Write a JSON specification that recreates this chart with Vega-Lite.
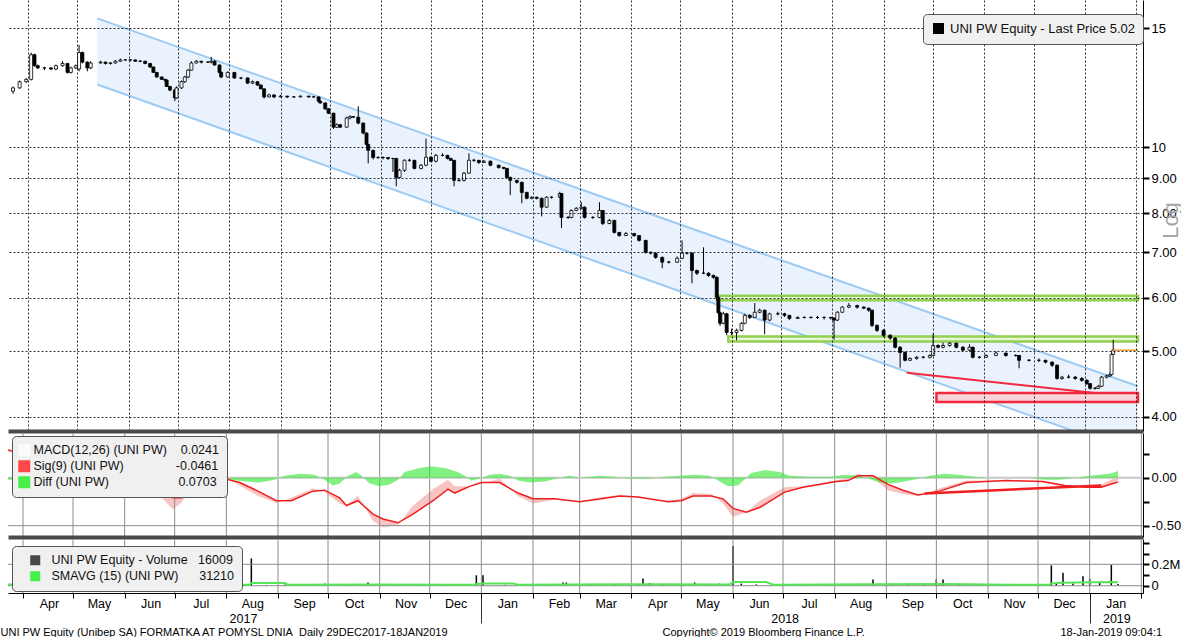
{
"$schema": "https://vega.github.io/schema/vega-lite/v6.json",
"padding": 0,
"background": "white",
"bounds": "flush",
"spacing": 2,
"config": {"view": {"stroke": null}, "font": "Liberation Sans",
  "axis": {"labelFont": "Liberation Sans", "titleFont": "Liberation Sans", "titleFontWeight": "normal", "labelColor": "#000", "titleColor": "#000"},
  "legend": {"labelFont": "Liberation Sans"}},
"resolve": {"scale": {"x": "independent", "y": "independent", "color": "independent"}},
"datasets": {
"months": [{"d":"2017-04-01"},{"d":"2017-05-01"},{"d":"2017-06-01"},{"d":"2017-07-01"},{"d":"2017-08-01"},{"d":"2017-09-01"},{"d":"2017-10-01"},{"d":"2017-11-01"},{"d":"2017-12-01"},{"d":"2018-01-01"},{"d":"2018-02-01"},{"d":"2018-03-01"},{"d":"2018-04-01"},{"d":"2018-05-01"},{"d":"2018-06-01"},{"d":"2018-07-01"},{"d":"2018-08-01"},{"d":"2018-09-01"},{"d":"2018-10-01"},{"d":"2018-11-01"},{"d":"2018-12-01"},{"d":"2019-01-01"},{"d":"2019-02-01"}],
"chan": [{"d":"2017-05-13","up":15.5,"lo":12.38},{"d":"2019-02-02","up":4.44,"lo":3.53}],
"bands": [{"d0":"2018-05-23","d1":"2019-02-02","t":6.04,"b":5.95,"k":"g"},{"d0":"2018-05-30","d1":"2019-02-02","t":5.26,"b":5.17,"k":"g"},{"d0":"2018-10-03","d1":"2019-02-02","t":4.34,"b":4.21,"k":"r"}],
"trend": [{"d":"2018-09-15","v":4.65},{"d":"2019-01-07","v":4.34}],
"last": [{"d":"2019-01-18","d2":"2019-02-02","v":5.02}],
"mtrend": [{"d":"2018-09-24","v":-0.165},{"d":"2019-01-08","v":-0.08}],
"px": [
{"d":"2017-03-23","o":12.1,"h":12.3,"l":12.0,"c":12.24},
{"d":"2017-03-27","o":12.24,"h":12.55,"l":12.2,"c":12.5},
{"d":"2017-03-31","o":12.5,"h":12.65,"l":12.45,"c":12.6},
{"d":"2017-04-03","o":12.6,"h":13.8,"l":12.55,"c":13.7},
{"d":"2017-04-05","o":13.7,"h":13.75,"l":13.15,"c":13.2},
{"d":"2017-04-07","o":13.2,"h":13.25,"l":13.05,"c":13.1},
{"d":"2017-04-11","o":13.1,"h":13.15,"l":13.0,"c":13.1},
{"d":"2017-04-15","o":13.1,"h":13.12,"l":13.0,"c":13.05},
{"d":"2017-04-18","o":13.05,"h":13.25,"l":13.0,"c":13.2},
{"d":"2017-04-22","o":13.2,"h":13.4,"l":13.15,"c":13.3},
{"d":"2017-04-25","o":13.3,"h":13.3,"l":12.85,"c":12.9},
{"d":"2017-04-27","o":12.9,"h":13.15,"l":12.85,"c":13.1},
{"d":"2017-04-30","o":13.1,"h":13.25,"l":13.05,"c":13.2},
{"d":"2017-05-02","o":13.05,"h":14.16,"l":12.95,"c":13.8},
{"d":"2017-05-04","o":13.8,"h":13.85,"l":13.3,"c":13.36},
{"d":"2017-05-07","o":13.36,"h":13.4,"l":12.95,"c":13.1},
{"d":"2017-05-09","o":13.1,"h":13.4,"l":13.05,"c":13.32},
{"d":"2017-05-15","o":13.32,"h":13.42,"l":13.3,"c":13.36},
{"d":"2017-05-18","o":13.36,"h":13.38,"l":13.25,"c":13.3},
{"d":"2017-05-21","o":13.3,"h":13.36,"l":13.25,"c":13.32},
{"d":"2017-05-24","o":13.32,"h":13.45,"l":13.3,"c":13.4},
{"d":"2017-05-27","o":13.4,"h":13.52,"l":13.38,"c":13.46},
{"d":"2017-05-30","o":13.46,"h":13.5,"l":13.42,"c":13.46},
{"d":"2017-06-02","o":13.46,"h":13.5,"l":13.4,"c":13.46},
{"d":"2017-06-05","o":13.46,"h":13.48,"l":13.38,"c":13.4},
{"d":"2017-06-08","o":13.4,"h":13.45,"l":13.36,"c":13.4},
{"d":"2017-06-11","o":13.4,"h":13.42,"l":13.26,"c":13.3},
{"d":"2017-06-14","o":13.3,"h":13.32,"l":13.1,"c":13.14},
{"d":"2017-06-16","o":13.14,"h":13.16,"l":12.88,"c":12.9},
{"d":"2017-06-18","o":12.9,"h":12.92,"l":12.68,"c":12.7},
{"d":"2017-06-21","o":12.7,"h":12.72,"l":12.58,"c":12.6},
{"d":"2017-06-23","o":12.6,"h":12.62,"l":12.5,"c":12.57},
{"d":"2017-06-24","o":12.57,"h":12.6,"l":12.28,"c":12.3},
{"d":"2017-06-26","o":12.3,"h":12.32,"l":12.1,"c":12.15},
{"d":"2017-06-29","o":12.15,"h":12.2,"l":11.7,"c":11.83},
{"d":"2017-06-30","o":11.83,"h":12.3,"l":11.8,"c":12.24},
{"d":"2017-07-03","o":12.24,"h":12.55,"l":12.2,"c":12.5},
{"d":"2017-07-05","o":12.5,"h":12.75,"l":12.45,"c":12.7},
{"d":"2017-07-07","o":12.7,"h":13.05,"l":12.65,"c":13.0},
{"d":"2017-07-09","o":13.0,"h":13.4,"l":12.98,"c":13.32},
{"d":"2017-07-12","o":13.32,"h":13.45,"l":13.3,"c":13.4},
{"d":"2017-07-15","o":13.4,"h":13.42,"l":13.3,"c":13.36},
{"d":"2017-07-19","o":13.36,"h":13.4,"l":13.32,"c":13.36},
{"d":"2017-07-21","o":13.36,"h":13.6,"l":13.3,"c":13.4},
{"d":"2017-07-23","o":13.4,"h":13.45,"l":13.2,"c":13.23},
{"d":"2017-07-26","o":13.23,"h":13.25,"l":12.85,"c":12.9},
{"d":"2017-07-27","o":12.9,"h":12.95,"l":12.65,"c":12.7},
{"d":"2017-07-31","o":12.7,"h":12.95,"l":12.68,"c":12.9},
{"d":"2017-08-04","o":12.9,"h":12.92,"l":12.62,"c":12.66},
{"d":"2017-08-08","o":12.66,"h":12.7,"l":12.6,"c":12.66},
{"d":"2017-08-12","o":12.66,"h":12.68,"l":12.4,"c":12.44},
{"d":"2017-08-15","o":12.44,"h":12.55,"l":12.4,"c":12.5},
{"d":"2017-08-18","o":12.5,"h":12.52,"l":12.32,"c":12.36},
{"d":"2017-08-20","o":12.36,"h":12.38,"l":12.18,"c":12.2},
{"d":"2017-08-22","o":12.2,"h":12.22,"l":11.8,"c":11.87},
{"d":"2017-08-25","o":11.87,"h":12.0,"l":11.85,"c":11.95},
{"d":"2017-08-28","o":11.95,"h":11.97,"l":11.82,"c":11.87},
{"d":"2017-09-01","o":11.87,"h":11.95,"l":11.85,"c":11.9},
{"d":"2017-09-05","o":11.9,"h":11.92,"l":11.82,"c":11.87},
{"d":"2017-09-09","o":11.87,"h":11.9,"l":11.84,"c":11.87},
{"d":"2017-09-13","o":11.87,"h":11.93,"l":11.85,"c":11.9},
{"d":"2017-09-18","o":11.9,"h":11.92,"l":11.84,"c":11.87},
{"d":"2017-09-21","o":11.87,"h":11.9,"l":11.84,"c":11.87},
{"d":"2017-09-24","o":11.87,"h":11.88,"l":11.66,"c":11.7},
{"d":"2017-09-25","o":11.7,"h":11.72,"l":11.6,"c":11.63},
{"d":"2017-09-28","o":11.63,"h":11.65,"l":11.36,"c":11.4},
{"d":"2017-09-30","o":11.4,"h":11.42,"l":11.2,"c":11.23},
{"d":"2017-10-03","o":11.23,"h":11.25,"l":10.65,"c":10.71},
{"d":"2017-10-05","o":10.71,"h":10.85,"l":10.68,"c":10.8},
{"d":"2017-10-07","o":10.8,"h":10.82,"l":10.68,"c":10.71},
{"d":"2017-10-11","o":10.71,"h":11.1,"l":10.7,"c":11.05},
{"d":"2017-10-13","o":11.05,"h":11.15,"l":11.0,"c":11.1},
{"d":"2017-10-15","o":11.1,"h":11.12,"l":11.05,"c":11.08},
{"d":"2017-10-18","o":11.08,"h":11.5,"l":10.82,"c":10.86},
{"d":"2017-10-21","o":10.86,"h":10.88,"l":10.45,"c":10.5},
{"d":"2017-10-23","o":10.5,"h":10.52,"l":10.05,"c":10.1},
{"d":"2017-10-24","o":10.1,"h":10.12,"l":9.47,"c":9.9},
{"d":"2017-10-27","o":9.9,"h":9.92,"l":9.6,"c":9.66},
{"d":"2017-10-30","o":9.66,"h":9.7,"l":9.62,"c":9.66},
{"d":"2017-11-02","o":9.66,"h":9.7,"l":9.6,"c":9.66},
{"d":"2017-11-05","o":9.66,"h":9.68,"l":9.58,"c":9.63},
{"d":"2017-11-08","o":9.63,"h":9.65,"l":9.2,"c":9.63},
{"d":"2017-11-10","o":9.63,"h":9.65,"l":8.76,"c":9.03},
{"d":"2017-11-12","o":9.03,"h":9.3,"l":9.0,"c":9.25},
{"d":"2017-11-15","o":9.25,"h":9.6,"l":9.2,"c":9.57},
{"d":"2017-11-18","o":9.57,"h":9.62,"l":9.52,"c":9.57},
{"d":"2017-11-21","o":9.57,"h":9.58,"l":9.28,"c":9.31},
{"d":"2017-11-25","o":9.31,"h":9.45,"l":9.28,"c":9.41},
{"d":"2017-11-28","o":9.41,"h":10.3,"l":9.38,"c":9.67},
{"d":"2017-12-01","o":9.67,"h":9.7,"l":9.5,"c":9.54},
{"d":"2017-12-04","o":9.54,"h":9.78,"l":9.5,"c":9.73},
{"d":"2017-12-08","o":9.73,"h":9.8,"l":9.7,"c":9.73},
{"d":"2017-12-11","o":9.73,"h":9.75,"l":9.6,"c":9.63},
{"d":"2017-12-13","o":9.63,"h":9.65,"l":9.55,"c":9.57},
{"d":"2017-12-15","o":9.57,"h":9.58,"l":8.76,"c":8.94},
{"d":"2017-12-18","o":8.94,"h":9.0,"l":8.9,"c":8.94},
{"d":"2017-12-21","o":8.94,"h":9.2,"l":8.9,"c":9.16},
{"d":"2017-12-24","o":9.16,"h":9.8,"l":9.14,"c":9.57},
{"d":"2017-12-27","o":9.57,"h":9.62,"l":9.52,"c":9.57},
{"d":"2017-12-30","o":9.57,"h":9.58,"l":9.45,"c":9.5},
{"d":"2018-01-02","o":9.5,"h":9.58,"l":9.48,"c":9.54},
{"d":"2018-01-06","o":9.54,"h":9.56,"l":9.38,"c":9.41},
{"d":"2018-01-11","o":9.41,"h":9.43,"l":9.3,"c":9.34},
{"d":"2018-01-14","o":9.34,"h":9.36,"l":9.28,"c":9.31},
{"d":"2018-01-16","o":9.31,"h":9.32,"l":9.0,"c":9.03},
{"d":"2018-01-18","o":9.03,"h":9.05,"l":8.5,"c":8.94},
{"d":"2018-01-22","o":8.94,"h":8.96,"l":8.84,"c":8.88},
{"d":"2018-01-25","o":8.88,"h":8.9,"l":8.27,"c":8.58},
{"d":"2018-01-28","o":8.58,"h":8.6,"l":8.38,"c":8.41},
{"d":"2018-01-31","o":8.41,"h":8.47,"l":8.38,"c":8.44},
{"d":"2018-02-03","o":8.44,"h":8.46,"l":8.38,"c":8.41},
{"d":"2018-02-06","o":8.41,"h":8.43,"l":7.91,"c":8.16},
{"d":"2018-02-09","o":8.16,"h":8.47,"l":8.14,"c":8.44},
{"d":"2018-02-12","o":8.44,"h":8.47,"l":8.4,"c":8.44},
{"d":"2018-02-17","o":8.44,"h":8.6,"l":8.42,"c":8.55},
{"d":"2018-02-18","o":8.55,"h":8.56,"l":7.6,"c":7.88},
{"d":"2018-02-22","o":7.88,"h":7.92,"l":7.84,"c":7.88},
{"d":"2018-02-24","o":7.88,"h":8.1,"l":7.86,"c":8.07},
{"d":"2018-02-27","o":8.07,"h":8.16,"l":8.05,"c":8.13},
{"d":"2018-03-02","o":8.13,"h":8.3,"l":8.1,"c":8.16},
{"d":"2018-03-04","o":8.16,"h":8.18,"l":7.85,"c":7.88},
{"d":"2018-03-09","o":7.88,"h":7.92,"l":7.84,"c":7.88},
{"d":"2018-03-13","o":7.88,"h":8.3,"l":7.86,"c":8.07},
{"d":"2018-03-15","o":8.07,"h":8.08,"l":7.68,"c":7.72},
{"d":"2018-03-19","o":7.72,"h":7.84,"l":7.7,"c":7.8},
{"d":"2018-03-22","o":7.8,"h":7.82,"l":7.46,"c":7.49},
{"d":"2018-03-25","o":7.49,"h":7.5,"l":7.38,"c":7.41},
{"d":"2018-03-29","o":7.41,"h":7.5,"l":7.4,"c":7.46},
{"d":"2018-04-03","o":7.46,"h":7.48,"l":7.38,"c":7.41},
{"d":"2018-04-06","o":7.41,"h":7.42,"l":7.26,"c":7.29},
{"d":"2018-04-10","o":7.29,"h":7.3,"l":6.97,"c":7.0},
{"d":"2018-04-13","o":7.0,"h":7.02,"l":6.95,"c":6.98},
{"d":"2018-04-16","o":6.98,"h":7.0,"l":6.85,"c":6.88},
{"d":"2018-04-20","o":6.88,"h":6.9,"l":6.63,"c":6.77},
{"d":"2018-04-24","o":6.77,"h":6.8,"l":6.74,"c":6.77},
{"d":"2018-04-29","o":6.77,"h":6.9,"l":6.75,"c":6.86},
{"d":"2018-05-02","o":6.86,"h":7.29,"l":6.84,"c":6.98},
{"d":"2018-05-05","o":6.98,"h":7.0,"l":6.95,"c":6.98},
{"d":"2018-05-08","o":6.98,"h":7.0,"l":6.3,"c":6.58},
{"d":"2018-05-11","o":6.58,"h":6.6,"l":6.48,"c":6.52},
{"d":"2018-05-15","o":6.52,"h":7.12,"l":6.5,"c":6.52},
{"d":"2018-05-18","o":6.52,"h":6.54,"l":6.44,"c":6.47},
{"d":"2018-05-21","o":6.47,"h":6.49,"l":6.4,"c":6.43},
{"d":"2018-05-23","o":6.43,"h":6.45,"l":5.95,"c":6.01},
{"d":"2018-05-24","o":6.01,"h":6.03,"l":5.65,"c":5.7},
{"d":"2018-05-25","o":5.7,"h":5.72,"l":5.45,"c":5.5},
{"d":"2018-05-27","o":5.5,"h":5.72,"l":5.48,"c":5.68},
{"d":"2018-05-29","o":5.68,"h":5.7,"l":5.28,"c":5.33},
{"d":"2018-06-01","o":5.33,"h":5.4,"l":5.28,"c":5.33},
{"d":"2018-06-04","o":5.33,"h":5.4,"l":5.19,"c":5.37},
{"d":"2018-06-07","o":5.37,"h":5.52,"l":5.35,"c":5.5},
{"d":"2018-06-09","o":5.5,"h":5.68,"l":5.48,"c":5.65},
{"d":"2018-06-12","o":5.65,"h":5.67,"l":5.58,"c":5.61},
{"d":"2018-06-15","o":5.61,"h":5.89,"l":5.6,"c":5.71},
{"d":"2018-06-18","o":5.71,"h":5.78,"l":5.69,"c":5.75},
{"d":"2018-06-21","o":5.75,"h":5.76,"l":5.3,"c":5.56},
{"d":"2018-06-24","o":5.56,"h":5.7,"l":5.54,"c":5.68},
{"d":"2018-06-29","o":5.68,"h":5.72,"l":5.65,"c":5.68},
{"d":"2018-07-03","o":5.68,"h":5.7,"l":5.62,"c":5.65},
{"d":"2018-07-06","o":5.65,"h":5.66,"l":5.56,"c":5.59},
{"d":"2018-07-11","o":5.59,"h":5.63,"l":5.58,"c":5.61},
{"d":"2018-07-15","o":5.61,"h":5.63,"l":5.59,"c":5.61},
{"d":"2018-07-19","o":5.61,"h":5.63,"l":5.59,"c":5.61},
{"d":"2018-07-23","o":5.61,"h":5.64,"l":5.58,"c":5.61},
{"d":"2018-07-27","o":5.61,"h":5.63,"l":5.57,"c":5.61},
{"d":"2018-07-31","o":5.61,"h":5.62,"l":5.57,"c":5.6},
{"d":"2018-08-02","o":5.6,"h":5.61,"l":5.2,"c":5.56},
{"d":"2018-08-04","o":5.56,"h":5.73,"l":5.54,"c":5.71},
{"d":"2018-08-07","o":5.71,"h":5.83,"l":5.7,"c":5.81},
{"d":"2018-08-11","o":5.81,"h":5.89,"l":5.79,"c":5.84},
{"d":"2018-08-16","o":5.84,"h":5.86,"l":5.78,"c":5.81},
{"d":"2018-08-20","o":5.81,"h":5.83,"l":5.77,"c":5.79},
{"d":"2018-08-23","o":5.79,"h":5.8,"l":5.72,"c":5.75},
{"d":"2018-08-25","o":5.75,"h":5.76,"l":5.43,"c":5.46},
{"d":"2018-08-28","o":5.46,"h":5.48,"l":5.34,"c":5.37},
{"d":"2018-09-01","o":5.37,"h":5.39,"l":5.25,"c":5.28},
{"d":"2018-09-05","o":5.28,"h":5.3,"l":5.2,"c":5.23},
{"d":"2018-09-08","o":5.23,"h":5.25,"l":5.05,"c":5.07},
{"d":"2018-09-11","o":5.07,"h":5.09,"l":4.73,"c":4.98},
{"d":"2018-09-14","o":4.98,"h":5.0,"l":4.83,"c":4.85},
{"d":"2018-09-17","o":4.85,"h":4.9,"l":4.84,"c":4.88},
{"d":"2018-09-21","o":4.88,"h":4.92,"l":4.86,"c":4.9},
{"d":"2018-09-25","o":4.9,"h":4.92,"l":4.88,"c":4.9},
{"d":"2018-09-29","o":4.9,"h":4.95,"l":4.88,"c":4.93},
{"d":"2018-10-01","o":4.93,"h":5.31,"l":4.92,"c":5.1},
{"d":"2018-10-04","o":5.1,"h":5.12,"l":5.05,"c":5.07},
{"d":"2018-10-07","o":5.07,"h":5.15,"l":5.05,"c":5.1},
{"d":"2018-10-11","o":5.1,"h":5.16,"l":5.08,"c":5.14},
{"d":"2018-10-15","o":5.14,"h":5.15,"l":5.05,"c":5.07},
{"d":"2018-10-19","o":5.07,"h":5.09,"l":5.0,"c":5.02},
{"d":"2018-10-23","o":5.02,"h":5.12,"l":5.0,"c":5.07},
{"d":"2018-10-25","o":5.07,"h":5.08,"l":4.88,"c":4.9},
{"d":"2018-10-29","o":4.9,"h":4.92,"l":4.88,"c":4.9},
{"d":"2018-11-02","o":4.9,"h":4.95,"l":4.89,"c":4.93},
{"d":"2018-11-08","o":4.93,"h":5.0,"l":4.92,"c":4.97},
{"d":"2018-11-14","o":4.97,"h":4.98,"l":4.91,"c":4.93},
{"d":"2018-11-20","o":4.93,"h":4.95,"l":4.91,"c":4.93},
{"d":"2018-11-22","o":4.93,"h":4.94,"l":4.72,"c":4.85},
{"d":"2018-11-28","o":4.85,"h":4.87,"l":4.83,"c":4.85},
{"d":"2018-12-04","o":4.85,"h":4.88,"l":4.82,"c":4.85},
{"d":"2018-12-08","o":4.85,"h":4.86,"l":4.8,"c":4.82},
{"d":"2018-12-12","o":4.82,"h":4.83,"l":4.74,"c":4.77},
{"d":"2018-12-15","o":4.77,"h":4.78,"l":4.54,"c":4.56},
{"d":"2018-12-18","o":4.56,"h":4.6,"l":4.54,"c":4.58},
{"d":"2018-12-22","o":4.58,"h":4.62,"l":4.56,"c":4.58},
{"d":"2018-12-26","o":4.58,"h":4.6,"l":4.54,"c":4.56},
{"d":"2018-12-30","o":4.56,"h":4.58,"l":4.51,"c":4.53},
{"d":"2019-01-02","o":4.53,"h":4.55,"l":4.46,"c":4.48},
{"d":"2019-01-04","o":4.48,"h":4.49,"l":4.39,"c":4.41},
{"d":"2019-01-07","o":4.41,"h":4.43,"l":4.39,"c":4.41},
{"d":"2019-01-09","o":4.41,"h":4.46,"l":4.4,"c":4.44},
{"d":"2019-01-11","o":4.44,"h":4.6,"l":4.43,"c":4.58},
{"d":"2019-01-14","o":4.58,"h":4.62,"l":4.56,"c":4.6},
{"d":"2019-01-16","o":4.6,"h":4.65,"l":4.58,"c":4.62},
{"d":"2019-01-17","o":4.62,"h":4.98,"l":4.6,"c":4.95},
{"d":"2019-01-18","o":4.95,"h":5.2,"l":4.94,"c":5.02}
],
"sig": [
{"d":"2017-03-23","s":0.29,"m":0.27},{"d":"2017-04-09","s":0.22,"m":0.2},{"d":"2017-05-01","s":0.16,"m":0.14},{"d":"2017-05-23","s":0.1,"m":0.08},
{"d":"2017-06-10","s":0.05,"m":-0.01},{"d":"2017-06-21","s":-0.07,"m":-0.17},{"d":"2017-06-30","s":-0.21,"m":-0.33},{"d":"2017-07-05","s":-0.21,"m":-0.26},
{"d":"2017-07-13","s":-0.1,"m":-0.07},{"d":"2017-07-29","s":0.0,"m":0.03},{"d":"2017-08-09","s":-0.05,"m":-0.08},{"d":"2017-08-20","s":-0.14,"m":-0.19},
{"d":"2017-08-31","s":-0.24,"m":-0.26},{"d":"2017-09-09","s":-0.24,"m":-0.21},{"d":"2017-09-22","s":-0.14,"m":-0.11},{"d":"2017-09-29","s":-0.13,"m":-0.15},
{"d":"2017-10-08","s":-0.21,"m":-0.27},{"d":"2017-10-12","s":-0.29,"m":-0.29},{"d":"2017-10-19","s":-0.24,"m":-0.19},{"d":"2017-10-28","s":-0.38,"m":-0.45},
{"d":"2017-11-03","s":-0.43,"m":-0.52},{"d":"2017-11-12","s":-0.47,"m":-0.49},{"d":"2017-11-21","s":-0.38,"m":-0.29},{"d":"2017-12-03","s":-0.24,"m":-0.12},
{"d":"2017-12-12","s":-0.12,"m":-0.02},{"d":"2017-12-16","s":-0.16,"m":-0.09},{"d":"2017-12-25","s":-0.09,"m":-0.09},{"d":"2018-01-01","s":-0.05,"m":-0.06},
{"d":"2018-01-12","s":-0.05,"m":-0.01},{"d":"2018-01-23","s":-0.16,"m":-0.19},{"d":"2018-02-01","s":-0.22,"m":-0.27},{"d":"2018-02-14","s":-0.22,"m":-0.23},
{"d":"2018-03-01","s":-0.25,"m":-0.25},{"d":"2018-03-14","s":-0.22,"m":-0.2},{"d":"2018-03-25","s":-0.19,"m":-0.18},{"d":"2018-04-05","s":-0.2,"m":-0.21},
{"d":"2018-04-23","s":-0.25,"m":-0.24},{"d":"2018-05-01","s":-0.24,"m":-0.22},{"d":"2018-05-08","s":-0.19,"m":-0.16},{"d":"2018-05-19","s":-0.19,"m":-0.17},
{"d":"2018-05-26","s":-0.22,"m":-0.27},{"d":"2018-06-01","s":-0.32,"m":-0.41},{"d":"2018-06-09","s":-0.36,"m":-0.36},{"d":"2018-06-17","s":-0.31,"m":-0.24},
{"d":"2018-07-02","s":-0.15,"m":-0.1},{"d":"2018-07-13","s":-0.1,"m":-0.09},{"d":"2018-08-02","s":-0.04,"m":-0.03},{"d":"2018-08-09","s":-0.03,"m":0.0},
{"d":"2018-08-15","s":0.02,"m":0.04},{"d":"2018-08-24","s":0.02,"m":0.0},{"d":"2018-09-02","s":-0.07,"m":-0.13},{"d":"2018-09-11","s":-0.13,"m":-0.17},
{"d":"2018-09-20","s":-0.18,"m":-0.19},{"d":"2018-10-03","s":-0.14,"m":-0.11},{"d":"2018-10-19","s":-0.05,"m":-0.03},{"d":"2018-11-12","s":-0.03,"m":-0.03},
{"d":"2018-12-04","s":-0.04,"m":-0.05},{"d":"2018-12-17","s":-0.08,"m":-0.1},{"d":"2018-12-30","s":-0.1,"m":-0.08},{"d":"2019-01-08","s":-0.1,"m":-0.07},
{"d":"2019-01-15","s":-0.06,"m":-0.01},{"d":"2019-01-18","s":-0.046,"m":0.024}
],
"diff": [
{"d":"2017-03-23","v":-0.02},{"d":"2017-04-11","v":-0.02},{"d":"2017-05-05","v":-0.02},{"d":"2017-05-17","v":-0.01},{"d":"2017-05-29","v":-0.03},
{"d":"2017-06-10","v":-0.06},{"d":"2017-06-22","v":-0.1},{"d":"2017-06-29","v":-0.12},{"d":"2017-07-04","v":-0.05},{"d":"2017-07-10","v":0.02},
{"d":"2017-07-19","v":0.04},{"d":"2017-07-28","v":0.03},{"d":"2017-08-04","v":-0.02},{"d":"2017-08-12","v":-0.04},{"d":"2017-08-21","v":-0.05},
{"d":"2017-08-30","v":-0.02},{"d":"2017-09-05","v":0.02},{"d":"2017-09-14","v":0.04},{"d":"2017-09-23","v":0.03},{"d":"2017-09-29","v":-0.02},
{"d":"2017-10-04","v":-0.08},{"d":"2017-10-08","v":-0.06},{"d":"2017-10-13","v":0.02},{"d":"2017-10-18","v":0.06},{"d":"2017-10-21","v":0.02},
{"d":"2017-10-26","v":-0.06},{"d":"2017-11-01","v":-0.09},{"d":"2017-11-07","v":-0.07},{"d":"2017-11-12","v":-0.02},{"d":"2017-11-16","v":0.06},
{"d":"2017-11-25","v":0.1},{"d":"2017-12-02","v":0.12},{"d":"2017-12-10","v":0.1},{"d":"2017-12-18","v":0.06},{"d":"2017-12-22","v":0.02},
{"d":"2017-12-26","v":-0.03},{"d":"2017-12-31","v":-0.01},{"d":"2018-01-06","v":0.03},{"d":"2018-01-12","v":0.04},{"d":"2018-01-18","v":0.02},
{"d":"2018-01-23","v":-0.03},{"d":"2018-01-30","v":-0.05},{"d":"2018-02-08","v":-0.04},{"d":"2018-02-17","v":0.0},{"d":"2018-02-23","v":0.02},
{"d":"2018-03-01","v":0.0},{"d":"2018-03-13","v":0.02},{"d":"2018-03-22","v":0.01},{"d":"2018-03-31","v":-0.01},{"d":"2018-04-12","v":-0.01},
{"d":"2018-04-21","v":0.01},{"d":"2018-04-30","v":0.02},{"d":"2018-05-09","v":0.03},{"d":"2018-05-18","v":0.02},{"d":"2018-05-24","v":-0.04},
{"d":"2018-05-29","v":-0.09},{"d":"2018-06-04","v":-0.08},{"d":"2018-06-09","v":0.0},{"d":"2018-06-12","v":0.05},{"d":"2018-06-20","v":0.08},
{"d":"2018-06-29","v":0.06},{"d":"2018-07-05","v":0.02},{"d":"2018-07-17","v":0.01},{"d":"2018-07-29","v":0.01},{"d":"2018-08-07","v":0.03},
{"d":"2018-08-16","v":0.02},{"d":"2018-08-23","v":-0.02},{"d":"2018-08-28","v":-0.05},{"d":"2018-09-04","v":-0.06},{"d":"2018-09-12","v":-0.04},
{"d":"2018-09-20","v":-0.01},{"d":"2018-09-27","v":0.02},{"d":"2018-10-06","v":0.04},{"d":"2018-10-15","v":0.03},{"d":"2018-10-24","v":0.01},
{"d":"2018-11-02","v":0.0},{"d":"2018-11-14","v":0.0},{"d":"2018-11-26","v":0.0},{"d":"2018-12-05","v":-0.02},{"d":"2018-12-14","v":-0.02},
{"d":"2018-12-23","v":0.0},{"d":"2019-01-01","v":0.02},{"d":"2019-01-07","v":0.03},{"d":"2019-01-12","v":0.04},{"d":"2019-01-15","v":0.05},{"d":"2019-01-18","v":0.0703}
],
"vol": [
{"d":"2017-03-24","v":8000},{"d":"2017-04-03","v":60000},{"d":"2017-04-14","v":40000},{"d":"2017-04-28","v":6000},{"d":"2017-05-12","v":9000},
{"d":"2017-05-26","v":5000},{"d":"2017-06-05","v":20000},{"d":"2017-06-20","v":6000},{"d":"2017-07-05","v":8000},{"d":"2017-07-20","v":5000},
{"d":"2017-08-16","v":255000},{"d":"2017-08-25","v":7000},{"d":"2017-09-05","v":10000},{"d":"2017-09-20","v":6000},{"d":"2017-09-29","v":20000},
{"d":"2017-10-12","v":8000},{"d":"2017-10-25","v":30000},{"d":"2017-11-10","v":9000},{"d":"2017-11-24","v":6000},{"d":"2017-12-08","v":10000},
{"d":"2017-12-20","v":7000},{"d":"2017-12-29","v":97000},{"d":"2018-01-02","v":97000},{"d":"2018-01-15","v":8000},{"d":"2018-01-29","v":6000},
{"d":"2018-02-09","v":9000},{"d":"2018-02-19","v":30000},{"d":"2018-02-21","v":30000},{"d":"2018-03-08","v":7000},{"d":"2018-03-22","v":9000},
{"d":"2018-04-05","v":10000},{"d":"2018-04-08","v":67000},{"d":"2018-04-12","v":25000},{"d":"2018-04-20","v":8000},{"d":"2018-05-02","v":12000},
{"d":"2018-05-09","v":30000},{"d":"2018-05-16","v":10000},{"d":"2018-05-24","v":20000},{"d":"2018-06-01","v":370000},{"d":"2018-06-06","v":20000},
{"d":"2018-06-15","v":12000},{"d":"2018-06-28","v":8000},{"d":"2018-07-13","v":5000},{"d":"2018-07-26","v":6000},{"d":"2018-08-09","v":15000},
{"d":"2018-08-24","v":58000},{"d":"2018-09-05","v":12000},{"d":"2018-09-14","v":20000},{"d":"2018-09-24","v":15000},{"d":"2018-10-01","v":58000},
{"d":"2018-10-05","v":58000},{"d":"2018-10-15","v":10000},{"d":"2018-10-29","v":8000},{"d":"2018-11-12","v":12000},{"d":"2018-11-26","v":6000},
{"d":"2018-12-09","v":190000},{"d":"2018-12-12","v":25000},{"d":"2018-12-16","v":120000},{"d":"2018-12-22","v":20000},{"d":"2018-12-28","v":88000},
{"d":"2019-01-01","v":67000},{"d":"2019-01-07","v":25000},{"d":"2019-01-14","v":194000},{"d":"2019-01-18","v":16009}
],
"sma": [
{"d":"2017-03-23","s":12000},{"d":"2017-04-20","s":15000},{"d":"2017-05-25","s":10000},{"d":"2017-07-15","s":8000},{"d":"2017-08-15","s":8000},
{"d":"2017-08-16","s":25000},{"d":"2017-09-05","s":25000},{"d":"2017-09-07","s":9000},{"d":"2017-10-25","s":11000},{"d":"2017-12-28","s":9000},
{"d":"2017-12-29","s":15000},{"d":"2018-01-02","s":21000},{"d":"2018-01-20","s":21000},{"d":"2018-01-23","s":9000},{"d":"2018-02-19","s":12000},
{"d":"2018-04-08","s":13000},{"d":"2018-05-30","s":11000},{"d":"2018-06-01","s":34000},{"d":"2018-06-21","s":34000},{"d":"2018-06-25","s":10000},
{"d":"2018-08-24","s":13000},{"d":"2018-10-05","s":15000},{"d":"2018-11-15","s":10000},{"d":"2018-12-08","s":10000},{"d":"2018-12-09","s":22000},
{"d":"2018-12-16","s":28000},{"d":"2019-01-14","s":35000},{"d":"2019-01-18","s":31210}
]
},
"vconcat": [
{
 "width": 1135, "height": 431,
 "resolve": {"axis": {"x": "independent", "y": "independent"}},
 "layer": [
  {"data": {"name": "chan"}, "mark": {"type": "area", "clip": true, "color": "#d3e6fb", "opacity": 0.5},
   "encoding": {
    "x": {"field": "d", "type": "temporal", "scale": {"type": "utc", "domain": [{"year": 2017, "month": 3, "date": 23, "utc": true}, {"year": 2019, "month": 2, "date": 2, "utc": true}]},
          "axis": {"orient": "bottom", "zindex": 1, "labels": false, "ticks": false, "domain": true, "domainWidth": 4, "domainColor": "#4a4a4a", "grid": true, "gridDash": [2, 2], "gridColor": "#000000", "gridWidth": 1, "gridOpacity": 0.8, "tickCount": {"interval": "month", "step": 1},
                   "title": "UNI PW Equity (Unibep SA) FORMATKA AT POMYSL DNIA\u00a0\u00a0Daily 29DEC2017-18JAN2019", "titleX": -8, "titleY": 204, "titleAlign": "left", "titleBaseline": "alphabetic", "titleFontSize": 11, "titleAnchor": "start"}},
    "y": {"field": "up", "type": "quantitative", "scale": {"type": "log", "domain": [3.814, 16.5], "nice": false},
          "axis": {"orient": "right", "zindex": 1, "values": [4, 5, 6, 7, 8, 9, 10, 15], "labelExpr": "datum.value >= 10 ? format(datum.value, 'd') : format(datum.value, '.2f')", "grid": true, "gridDash": [2, 2], "gridColor": "#000000", "gridWidth": 1, "gridOpacity": 0.8, "domainColor": "#000", "tickColor": "#000", "tickSize": 6, "tickWidth": 2, "labelPadding": 2, "labelFontSize": 13, "labelOverlap": false,
                   "title": "Log", "titleAngle": 270, "titleX": 27, "titleY": 220, "titleFontSize": 22, "titleColor": "#a6a6a6", "titleAlign": "center", "titleBaseline": "middle"}},
    "y2": {"field": "lo"}}},
  {"data": {"name": "chan"}, "mark": {"type": "line", "clip": true, "color": "#9ccbf4", "strokeWidth": 2},
   "encoding": {"x": {"field": "d", "type": "temporal", "axis": null}, "y": {"field": "up", "type": "quantitative", "axis": null, "scale": {"type": "log", "domain": [3.814, 16.5], "nice": false}}}},
  {"data": {"name": "chan"}, "mark": {"type": "line", "clip": true, "color": "#9ccbf4", "strokeWidth": 2},
   "encoding": {"x": {"field": "d", "type": "temporal", "axis": null}, "y": {"field": "lo", "type": "quantitative", "axis": null, "scale": {"type": "log", "domain": [3.814, 16.5], "nice": false}}}},
  {"data": {"name": "bands"}, "mark": {"type": "rect", "clip": true, "strokeWidth": 2.5},
   "encoding": {"x": {"field": "d0", "type": "temporal", "axis": null}, "x2": {"field": "d1"}, "y": {"field": "t", "type": "quantitative", "axis": null, "scale": {"type": "log", "domain": [3.814, 16.5], "nice": false}}, "y2": {"field": "b"},
    "fill": {"condition": {"test": "datum.k == 'r'", "value": "#f9d3da"}, "value": "#e8f6d8"},
    "stroke": {"condition": {"test": "datum.k == 'r'", "value": "#f5283f"}, "value": "#92d050"}}},
  {"data": {"name": "trend"}, "mark": {"type": "line", "color": "#f5283f", "strokeWidth": 2},
   "encoding": {"x": {"field": "d", "type": "temporal", "axis": null}, "y": {"field": "v", "type": "quantitative", "axis": null, "scale": {"type": "log", "domain": [3.814, 16.5], "nice": false}}}},
  {"data": {"name": "px"}, "mark": {"type": "rule", "color": "#000", "strokeWidth": 1},
   "encoding": {"x": {"field": "d", "type": "temporal", "axis": null}, "y": {"field": "l", "type": "quantitative", "axis": null, "scale": {"type": "log", "domain": [3.814, 16.5], "nice": false}}, "y2": {"field": "h"}}},
  {"data": {"name": "px"}, "mark": {"type": "bar", "size": 3, "stroke": "#000", "strokeWidth": 0.8},
   "encoding": {"x": {"field": "d", "type": "temporal", "axis": null}, "y": {"field": "o", "type": "quantitative", "axis": null, "scale": {"type": "log", "domain": [3.814, 16.5], "nice": false}}, "y2": {"field": "c"},
    "fill": {"condition": {"test": "datum.c >= datum.o", "value": "#ffffff"}, "value": "#000000"}}},
  {"data": {"name": "last"}, "mark": {"type": "rule", "color": "#f29b2c", "strokeWidth": 1.5},
   "encoding": {"x": {"field": "d", "type": "temporal", "axis": null}, "x2": {"field": "d2"}, "y": {"field": "v", "type": "quantitative", "axis": null, "scale": {"type": "log", "domain": [3.814, 16.5], "nice": false}}}},
  {"data": {"values": [{"d": "2000-01-01", "v": 10, "k": "UNI PW Equity - Last Price 5.02"}]}, "mark": {"type": "square", "clip": true, "opacity": 1},
   "encoding": {"x": {"field": "d", "type": "temporal", "axis": null}, "y": {"field": "v", "type": "quantitative", "axis": null, "scale": {"type": "log", "domain": [3.814, 16.5], "nice": false}},
    "color": {"field": "k", "type": "nominal", "scale": {"domain": ["UNI PW Equity - Last Price 5.02"], "range": ["#000000"]},
     "legend": {"orient": "none", "legendX": 915, "legendY": 14, "zindex": 2, "title": null, "fillColor": "#f0f0f0", "strokeColor": "#555555", "cornerRadius": 4, "padding": 8, "symbolType": "square", "symbolSize": 121, "symbolOffset": 1, "labelOffset": 5, "labelFontSize": 13, "labelColor": "#111", "labelLimit": 400, "symbolStrokeWidth": 0}}}}
 ]
},
{
 "width": 1135, "height": 104,
 "resolve": {"axis": {"x": "independent", "y": "independent"}},
 "layer": [
  {"data": {"name": "sig"}, "mark": {"type": "area", "color": "#f5a3a3", "opacity": 0.65},
   "encoding": {
    "x": {"field": "d", "type": "temporal", "scale": {"type": "utc", "domain": [{"year": 2017, "month": 3, "date": 23, "utc": true}, {"year": 2019, "month": 2, "date": 2, "utc": true}]},
          "axis": {"orient": "bottom", "zindex": 1, "labels": false, "ticks": false, "domain": true, "domainWidth": 4, "domainColor": "#4a4a4a", "grid": false, "tickCount": {"interval": "month", "step": 1},
                   "title": "Copyright\u00a9 2019 Bloomberg Finance L.P.", "titleX": 654, "titleY": 98, "titleAlign": "left", "titleBaseline": "alphabetic", "titleFontSize": 11, "titleAnchor": "start"}},
    "y": {"field": "s", "type": "quantitative", "scale": {"domain": [-0.618, 0.466], "nice": false, "zero": false},
          "axis": {"orient": "right", "zindex": 1, "values": [0.25, 0, -0.25, -0.5], "labelExpr": "datum.value == 0 ? '0.00' : datum.value == -0.5 ? '-0.50' : ''", "grid": false, "domainColor": "#000", "tickColor": "#000", "tickSize": 6, "tickWidth": 2, "labelPadding": 2, "labelFontSize": 13, "labelOverlap": false, "title": null}},
    "y2": {"field": "m"}}},
  {"data": {"name": "months"}, "mark": {"type": "rule", "color": "#8c8c8c", "strokeWidth": 1},
   "encoding": {"x": {"field": "d", "type": "temporal", "axis": null}}},
  {"data": {"values": [{"v": -0.5}]}, "mark": {"type": "rule", "color": "#8c8c8c", "strokeWidth": 1},
   "encoding": {"y": {"field": "v", "type": "quantitative", "axis": null}}},
  {"data": {"values": [{"v": 0}]}, "mark": {"type": "rule", "color": "#c8c8c8", "strokeWidth": 2},
   "encoding": {"y": {"field": "v", "type": "quantitative", "axis": null}}},
  {"data": {"name": "diff"}, "mark": {"type": "area", "color": "#2ee82e", "opacity": 0.6},
   "encoding": {"x": {"field": "d", "type": "temporal", "axis": null}, "y": {"field": "v", "type": "quantitative", "axis": null}, "y2": {"datum": 0}}},
  {"data": {"name": "sig"}, "mark": {"type": "line", "color": "#f01e1e", "strokeWidth": 1.5},
   "encoding": {"x": {"field": "d", "type": "temporal", "axis": null}, "y": {"field": "s", "type": "quantitative", "axis": null}}},
  {"data": {"name": "mtrend"}, "mark": {"type": "line", "color": "#f01e1e", "strokeWidth": 2.5},
   "encoding": {"x": {"field": "d", "type": "temporal", "axis": null}, "y": {"field": "v", "type": "quantitative", "axis": null}}},
  {"data": {"values": [{"d": "2000-01-01", "v": 0, "k": "MACD(12,26) (UNI PW)\u00a0\u00a0\u00a0\u00a00.0241"}, {"d": "2000-01-01", "v": 0, "k": "Sig(9) (UNI PW)\u00a0\u00a0\u00a0\u00a0\u00a0\u00a0\u00a0\u00a0\u00a0\u00a0\u00a0\u00a0\u00a0\u00a0\u00a0-0.0461"}, {"d": "2000-01-01", "v": 0, "k": "Diff (UNI PW)\u00a0\u00a0\u00a0\u00a0\u00a0\u00a0\u00a0\u00a0\u00a0\u00a0\u00a0\u00a0\u00a0\u00a0\u00a0\u00a0\u00a0\u00a0\u00a0\u00a00.0703"}]},
   "mark": {"type": "square", "clip": true},
   "encoding": {"x": {"field": "d", "type": "temporal", "axis": null}, "y": {"field": "v", "type": "quantitative", "axis": null},
    "color": {"field": "k", "type": "nominal", "scale": {"domain": ["MACD(12,26) (UNI PW)\u00a0\u00a0\u00a0\u00a00.0241", "Sig(9) (UNI PW)\u00a0\u00a0\u00a0\u00a0\u00a0\u00a0\u00a0\u00a0\u00a0\u00a0\u00a0\u00a0\u00a0\u00a0\u00a0-0.0461", "Diff (UNI PW)\u00a0\u00a0\u00a0\u00a0\u00a0\u00a0\u00a0\u00a0\u00a0\u00a0\u00a0\u00a0\u00a0\u00a0\u00a0\u00a0\u00a0\u00a0\u00a0\u00a00.0703"], "range": ["#ffffff", "#ff0000", "#00ee00"]},
     "legend": {"orient": "none", "legendX": 4, "legendY": 3, "zindex": 2, "title": null, "fillColor": "#f0f0f0", "strokeColor": "#555555", "cornerRadius": 4, "padding": 8, "symbolType": "square", "symbolSize": 144, "symbolOffset": -2, "labelOffset": 3, "rowPadding": 3, "labelFontSize": 12.5, "labelColor": "#111", "labelLimit": 400, "symbolStrokeWidth": 0}}}}
 ]
},
{
 "width": 1135, "height": 54,
 "resolve": {"axis": {"x": "independent", "y": "independent"}},
 "layer": [
  {"data": {"name": "vol"}, "mark": {"type": "rule", "color": "#000", "strokeWidth": 1.5},
   "encoding": {
    "x": {"field": "d", "type": "temporal", "scale": {"type": "utc", "domain": [{"year": 2017, "month": 3, "date": 23, "utc": true}, {"year": 2019, "month": 2, "date": 2, "utc": true}]},
          "axis": {"orient": "bottom", "zindex": 1, "tickCount": {"interval": "month", "step": 1}, "labelExpr": "utcFormat(datum.value, '%Y-%m') == '2019-02' ? '' : utcFormat(datum.value, '%b')", "labelOffset": 26, "labelOverlap": false, "labelBound": false, "labelFlush": false, "labelPadding": 5, "labelBaseline": "middle", "labelFontSize": 12.5, "ticks": true, "tickSize": 5, "tickColor": "#000", "domainColor": "#000", "grid": false,
                   "title": "18-Jan-2019 09:04:1", "titleX": 1052, "titleY": 42, "titleAlign": "left", "titleBaseline": "alphabetic", "titleFontSize": 11, "titleAnchor": "start"}},
    "y": {"field": "v", "type": "quantitative", "scale": {"domain": [-68000, 436000], "nice": false, "zero": false},
          "axis": {"orient": "right", "zindex": 1, "values": [0, 100000, 200000, 300000, 400000], "labelExpr": "datum.value == 0 ? '0' : datum.value == 200000 ? '0.2M' : ''", "grid": false, "domainColor": "#000", "tickColor": "#000", "tickSize": 6, "tickWidth": 2, "labelPadding": 2, "labelFontSize": 13, "labelOverlap": false, "title": null}},
    "y2": {"datum": 0}}},
  {"data": {"name": "months"}, "mark": {"type": "rule", "color": "#8c8c8c", "strokeWidth": 1},
   "encoding": {"x": {"field": "d", "type": "temporal", "axis": null}}},
  {"data": {"values": [{"v": 0}, {"v": 200000}]}, "mark": {"type": "rule", "color": "#8c8c8c", "strokeWidth": 1},
   "encoding": {"y": {"field": "v", "type": "quantitative", "axis": null}}},
  {"data": {"name": "sma"}, "mark": {"type": "line", "color": "#55e655", "strokeWidth": 2},
   "encoding": {
    "x": {"field": "d", "type": "temporal",
          "axis": {"orient": "bottom", "values": [{"year": 2017, "month": 8, "date": 11, "utc": true}, {"year": 2018, "month": 1, "date": 1, "utc": true}, {"year": 2018, "month": 7, "date": 2, "utc": true}, {"year": 2019, "month": 1, "date": 1, "utc": true}, {"year": 2019, "month": 1, "date": 17, "utc": true}],
                   "labelExpr": "utcFormat(datum.value, '%m-%d') == '01-01' ? '' : utcFormat(datum.value, '%Y')", "labelOverlap": false, "labelBound": false, "labelFlush": false, "domain": false, "grid": false, "ticks": true, "tickSize": 30, "tickColor": "#333",
                   "tickOpacity": {"condition": {"test": "utcFormat(datum.value, '%m-%d') == '01-01'", "value": 1}, "value": 0},
                   "labelPadding": -5, "labelBaseline": "middle", "labelFontSize": 12.5, "title": null}},
    "y": {"field": "s", "type": "quantitative", "axis": null}}},
  {"data": {"values": [{"d": "2000-01-01", "v": 0, "k": "UNI PW Equity - Volume\u00a0\u00a0\u00a016009"}, {"d": "2000-01-01", "v": 0, "k": "SMAVG (15) (UNI PW)\u00a0\u00a0\u00a0\u00a0\u00a0\u00a031210"}]},
   "mark": {"type": "square", "clip": true},
   "encoding": {"x": {"field": "d", "type": "temporal", "axis": null}, "y": {"field": "v", "type": "quantitative", "axis": null},
    "color": {"field": "k", "type": "nominal", "scale": {"domain": ["UNI PW Equity - Volume\u00a0\u00a0\u00a016009", "SMAVG (15) (UNI PW)\u00a0\u00a0\u00a0\u00a0\u00a0\u00a031210"], "range": ["#000000", "#00ee00"]},
     "legend": {"orient": "none", "legendX": 4, "legendY": 7, "zindex": 2, "title": null, "fillColor": "#f0f0f0", "strokeColor": "#555555", "cornerRadius": 4, "padding": 8, "symbolType": "square", "symbolSize": 100, "symbolOffset": 9, "labelOffset": 10, "rowPadding": 3, "labelFontSize": 12.5, "labelColor": "#111", "labelLimit": 400, "symbolStrokeWidth": 0}}}}
 ]
}
]
}
